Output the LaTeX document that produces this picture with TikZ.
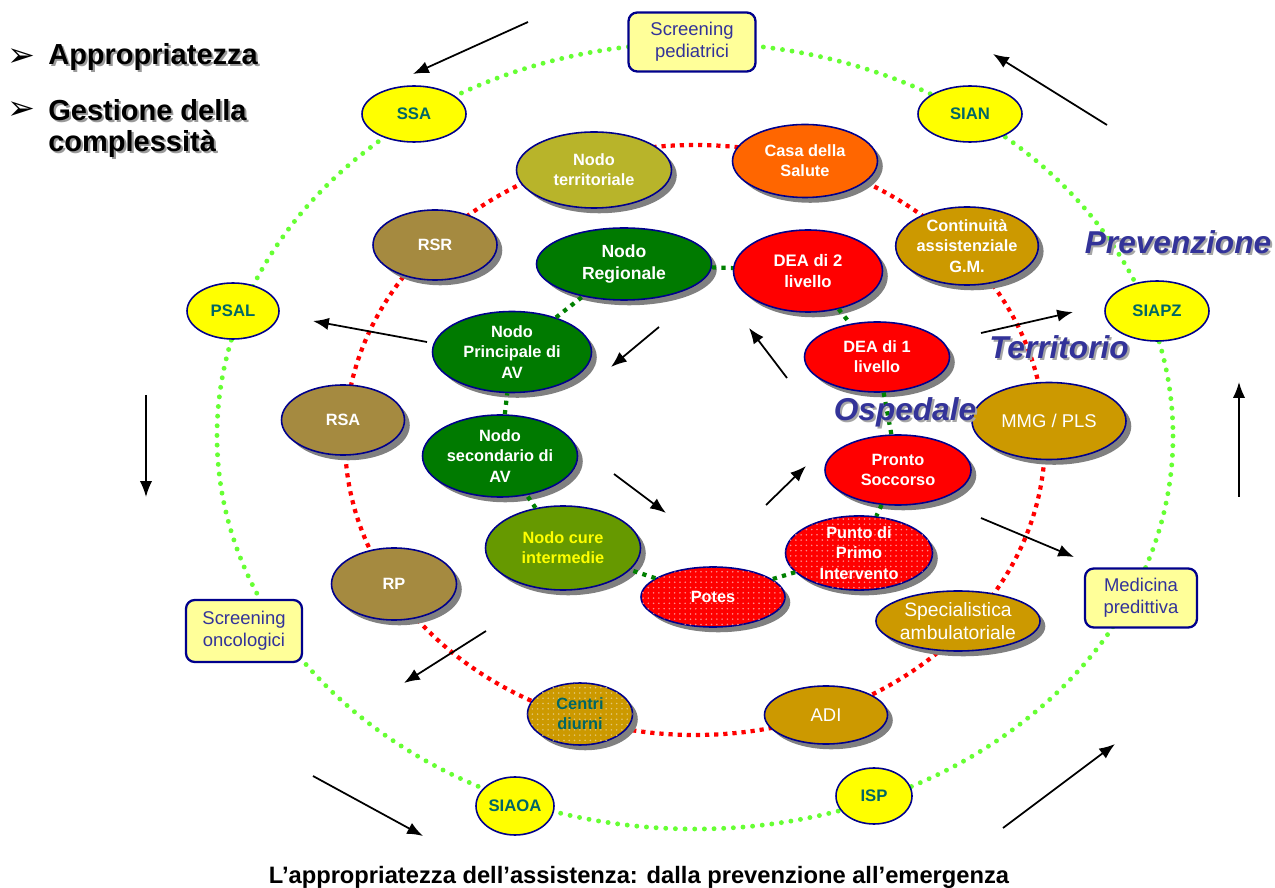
\documentclass[tikz,border=0pt]{standalone}
\usepackage{fontspec}
\setmainfont{Liberation Sans}
\newfontfamily\dejavu{DejaVu Sans}
\usetikzlibrary{shapes.geometric, arrows.meta, shadows, patterns}
\definecolor{navyb}{RGB}{0,0,140}
\definecolor{yel}{RGB}{255,255,0}
\definecolor{tealt}{RGB}{0,102,102}
\definecolor{boxfill}{RGB}{255,255,153}
\definecolor{boxtext}{RGB}{51,51,153}
\definecolor{olivey}{RGB}{184,180,42}
\definecolor{orangec}{RGB}{255,102,0}
\definecolor{goldc}{RGB}{204,153,0}
\definecolor{khaki}{RGB}{165,138,64}
\definecolor{dgreen}{RGB}{0,122,0}
\definecolor{lgreen}{RGB}{102,153,0}
\definecolor{redc}{RGB}{255,0,0}
\definecolor{ringgreen}{RGB}{102,255,51}
\definecolor{dotgreen}{RGB}{0,128,0}
\definecolor{labblue}{RGB}{51,51,153}
\definecolor{shgray}{RGB}{128,128,128}
\newcommand{\shtxt}[2][shgray!70]{\makebox[0pt][l]{\kern1.2pt\raisebox{-1.2pt}{\color{#1}#2}}#2}
\tikzset{
  sz/.style 2 args={minimum width=#1*0.02cm, minimum height=#2*0.02cm},
  base/.style={ellipse, draw=navyb, line width=0.9pt, inner sep=0pt, align=center},
  yelnode/.style={base, fill=yel, text=tealt, font=\bfseries\fontsize{9.5}{11}\selectfont},
  ybox/.style={rectangle, rounded corners=5pt, draw=navyb, line width=1.3pt, fill=boxfill, text=boxtext, inner sep=0pt, align=center, font=\fontsize{10.5}{12.5}\selectfont},
  nd/.style={base, text=white, drop shadow={shadow xshift=3pt, shadow yshift=-3pt, fill=shgray, opacity=1}, font=\bfseries\fontsize{9.3}{11.5}\selectfont},
  stip/.style={postaction={pattern=dots, pattern color=#1}},
  gring/.style={draw=ringgreen, line width=2.8pt, dash pattern=on 0pt off 5.5pt, line cap=round},
  rring/.style={draw=redc, line width=2.4pt, dash pattern=on 2.4pt off 2.8pt},
  gdot/.style={draw=dotgreen, line width=2.4pt, dash pattern=on 2.4pt off 3pt},
  arr/.style={draw=black, line width=1pt, -{Latex[length=9pt,width=7pt]}},
  biglab/.style={font=\bfseries\itshape\fontsize{18}{20}\selectfont, inner sep=0pt, text=labblue},
  toptext/.style={font=\bfseries\fontsize{16.5}{19}\selectfont, inner sep=0pt, anchor=west},
  bullet/.style={font=\dejavu\fontsize{19}{20}\selectfont, inner sep=0pt}
}
\begin{document}
\begin{tikzpicture}[x=0.02cm, y=-0.02cm]
\useasboundingbox (0,0) rectangle (1275,888);
\fill[white] (0,0) rectangle (1275,888);

% rings
\draw[gring] (695,436) ellipse [x radius=478, y radius=393];
\draw[rring] (695,440) ellipse [x radius=350, y radius=295];

% outer ring nodes
\node[yelnode, sz={104}{56}] (ssa) at (414,114) {SSA};
\node[yelnode, sz={104}{56}] (sian) at (970,114) {SIAN};
\node[yelnode, sz={104}{60}] (siapz) at (1157,311) {SIAPZ};
\node[yelnode, sz={92}{56}] (psal) at (233,311) {PSAL};
\node[yelnode, sz={76}{56}] (isp) at (874,796) {ISP};
\node[yelnode, sz={78}{58}] (siaoa) at (515,806) {SIAOA};
\node[ybox, sz={127}{59}] (scrped) at (692,42) {Screening\\pediatrici};
\node[ybox, sz={112}{59}] (medpred) at (1141,598) {Medicina\\predittiva};
\node[ybox, sz={116}{62}] (scronc) at (244,631) {Screening\\oncologici};

% red ring nodes
\node[nd, fill=olivey, sz={155}{76}] (nterr) at (594,170) {Nodo\\territoriale};
\node[nd, fill=orangec, sz={145}{73}] (casa) at (805,161) {Casa della\\Salute};
\node[nd, fill=goldc, sz={136}{78}] (cont) at (967,246) {Continuità\\assistenziale\\G.M.};
\node[nd, fill=goldc, sz={154}{77}, font=\fontsize{10.5}{12}\selectfont] (mmg) at (1049,421) {MMG / PLS};
\node[nd, fill=goldc, sz={156}{60}, font=\fontsize{11}{13}\selectfont] (spec) at (958,621) {Specialistica\\ambulatoriale};
\node[nd, fill=goldc, sz={123}{58}, font=\fontsize{10.5}{12}\selectfont] (adi) at (826,715) {ADI};
\node[nd, fill=goldc, stip=white!45!goldc, sz={105}{62}, text=tealt] (centri) at (580,714) {Centri\\diurni};
\node[nd, fill=khaki, sz={125}{72}] (rp) at (394,584) {RP};
\node[nd, fill=khaki, sz={123}{70}] (rsa) at (343,420) {RSA};
\node[nd, fill=khaki, sz={124}{70}] (rsr) at (435,245) {RSR};

% inner (green/red) nodes
\node[nd, fill=dgreen, sz={175}{72}, font=\bfseries\fontsize{10}{13}\selectfont] (nreg) at (624,264) {Nodo\\Regionale};
\node[nd, fill=redc, sz={149}{82}, font=\bfseries\fontsize{9.5}{12}\selectfont] (dea2) at (808,271) {DEA di 2\\livello};
\node[nd, fill=redc, sz={145}{70}] (dea1) at (877,357) {DEA di 1\\livello};
\node[nd, fill=redc, sz={146}{70}] (ps) at (898,470) {Pronto\\Soccorso};
\node[nd, fill=redc, stip=white!55!redc, sz={147}{70}] (ppi) at (859,553) {Punto di\\Primo\\Intervento};
\node[nd, fill=redc, stip=white!55!redc, sz={144}{60}] (potes) at (713,597) {Potes};
\node[nd, fill=lgreen, sz={155}{84}, text=yel] (ncure) at (563,548) {Nodo cure\\intermedie};
\node[nd, fill=dgreen, sz={155}{82}] (nsec) at (500,456) {Nodo\\secondario di\\AV};
\node[nd, fill=dgreen, sz={159}{81}] (nprinc) at (512,352) {Nodo\\Principale di\\AV};

% inner green dotted links
\draw[gdot] (nreg) -- (dea2);
\draw[gdot] (dea2) -- (dea1);
\draw[gdot] (dea1) -- (ps);
\draw[gdot] (ps) -- (ppi);
\draw[gdot] (ppi) -- (potes);
\draw[gdot] (potes) -- (ncure);
\draw[gdot] (ncure) -- (nsec);
\draw[gdot] (nsec) -- (nprinc);
\draw[gdot] (nprinc) -- (nreg);

% big labels
\node[biglab] (prev) at (1178,243) {\shtxt{Prevenzione}};
\node[biglab] (terr) at (1059,348) {\shtxt{Territorio}};
\node[biglab] (osp) at (905,413) {\shtxt{Ospedale}};

% top-left text
\node[bullet] (b1) at (21,58) {➢};
\node[bullet] (b2) at (21,111) {➢};
\node[toptext] (t1) at (48,58) {\shtxt[shgray!80]{Appropriatezza}};
\node[toptext] (t2) at (48,111) {\shtxt[shgray!80]{Gestione della}};
\node[toptext] (t3) at (48,145) {\shtxt[shgray!80]{complessità}};

% caption
\node[font=\bfseries\fontsize{13.5}{15}\selectfont, inner sep=0pt] (cap) at (639,877) {L’appropriatezza dell’assistenza: dalla prevenzione all’emergenza};

% arrows
\coordinate (a1s) at (528,22);  \coordinate (a1e) at (413,74);
\coordinate (a2s) at (1107,125); \coordinate (a2e) at (993,54);
\coordinate (a3s) at (1239,497); \coordinate (a3e) at (1239,382);
\coordinate (a4s) at (1003,828); \coordinate (a4e) at (1115,744);
\coordinate (a5s) at (313,776);  \coordinate (a5e) at (423,836);
\coordinate (a6s) at (146,395);  \coordinate (a6e) at (146,497);
\coordinate (a7s) at (427,342);  \coordinate (a7e) at (313,321);
\coordinate (a8s) at (659,327);  \coordinate (a8e) at (611,367);
\coordinate (a9s) at (614,474);  \coordinate (a9e) at (666,513);
\coordinate (a10s) at (766,505); \coordinate (a10e) at (806,466);
\coordinate (a11s) at (787,378); \coordinate (a11e) at (749,328);
\coordinate (a12s) at (981,333); \coordinate (a12e) at (1073,312);
\coordinate (a13s) at (981,518); \coordinate (a13e) at (1074,557);
\coordinate (a14s) at (486,631); \coordinate (a14e) at (404,683);
\foreach \i in {1,...,14} {\draw[arr] (a\i s) -- (a\i e);}
\end{tikzpicture}
\end{document}
